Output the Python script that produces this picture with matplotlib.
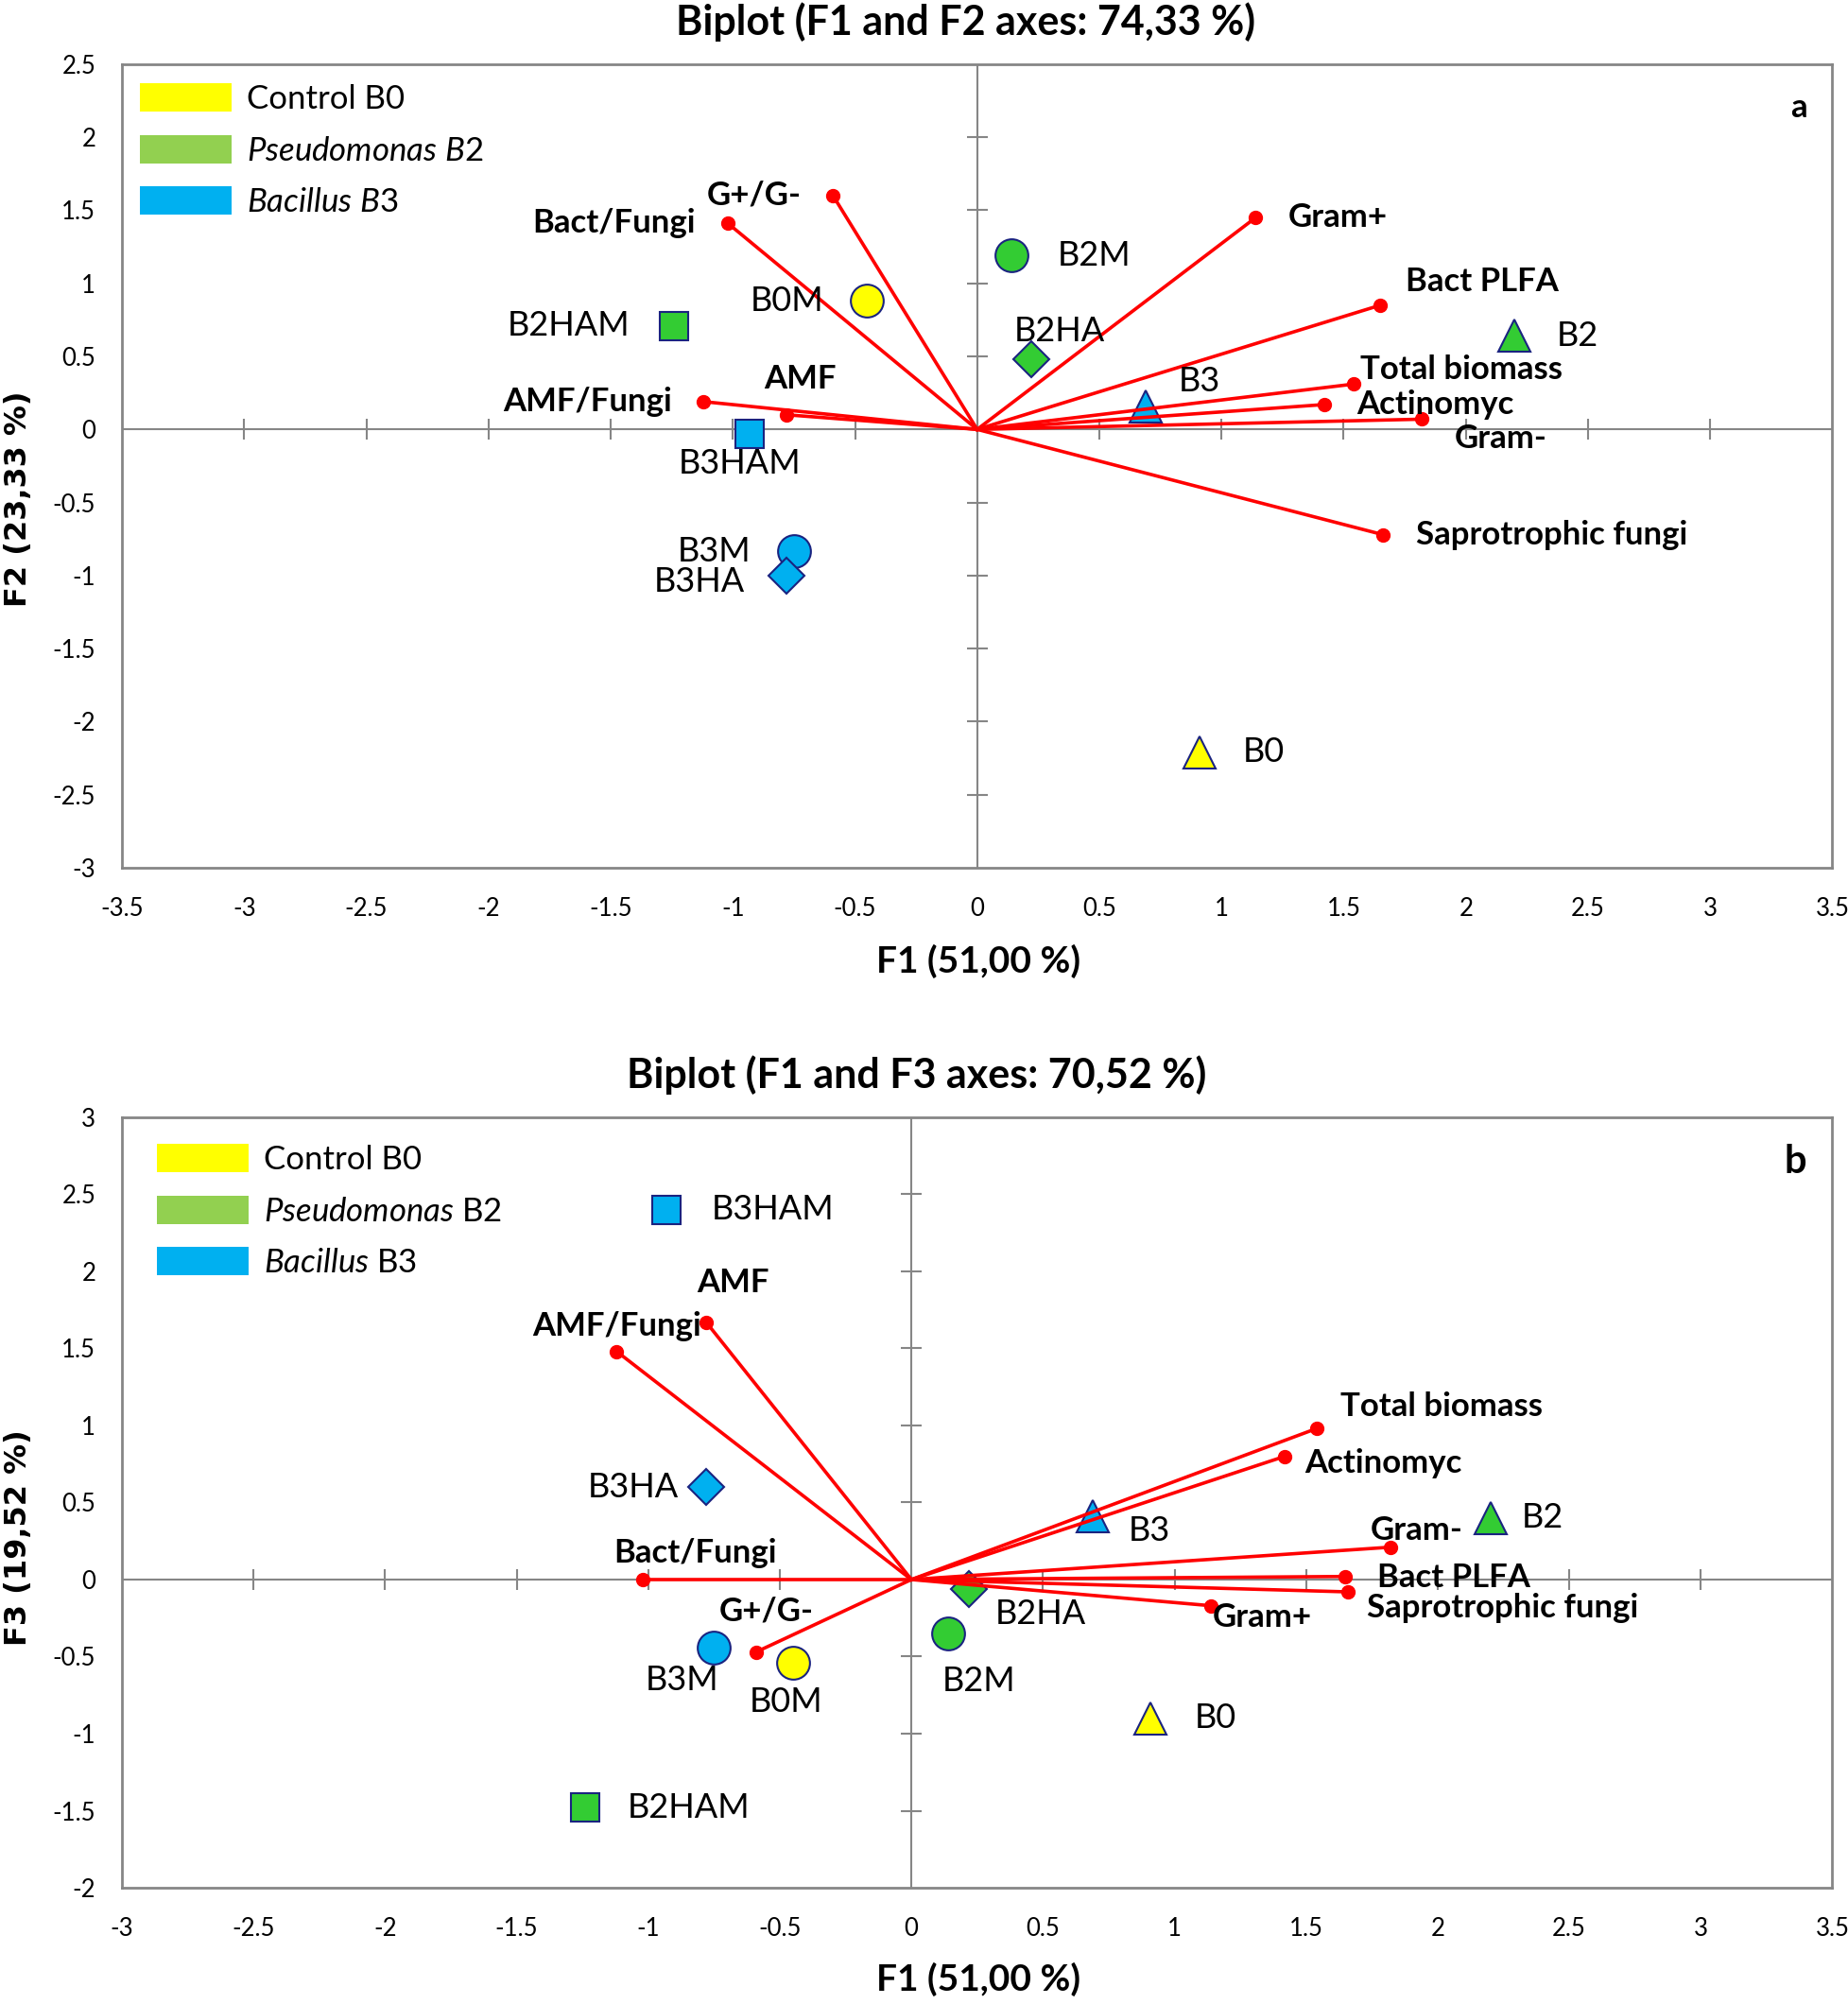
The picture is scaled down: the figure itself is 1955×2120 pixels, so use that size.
import matplotlib
matplotlib.use("Agg")
import matplotlib.pyplot as plt
from matplotlib.patches import Patch
from matplotlib.ticker import FuncFormatter, MultipleLocator
import numpy as np

plt.rcParams['font.family'] = ['Lato', 'DejaVu Sans']
plt.rcParams['axes.unicode_minus'] = False
plt.rcParams['mathtext.fontset'] = 'custom'
plt.rcParams['mathtext.rm'] = 'Lato'
plt.rcParams['mathtext.it'] = 'Lato:italic'

# sample scores
samples = ['B0', 'B0M', 'B2', 'B2M', 'B2HA', 'B2HAM', 'B3', 'B3M', 'B3HA', 'B3HAM']
s_f1 = [0.91, -0.45, 2.20, 0.14, 0.22, -1.24, 0.69, -0.75, -0.78, -0.93]
s_f2 = [-2.21, 0.88, 0.64, 1.19, 0.48, 0.71, 0.16, -0.83, -1.00, -0.03]
s_f3 = [-0.90, -0.54, 0.40, -0.35, -0.06, -1.48, 0.41, -0.44, 0.60, 2.40]

# variable loadings
variables = ['Total biomass', 'Bact PLFA', 'Gram+', 'Gram-', 'Actinomyc',
             'Saprotrophic fungi', 'AMF', 'Bact/Fungi', 'G+/G-', 'AMF/Fungi']
v_f1 = [1.54, 1.65, 1.14, 1.82, 1.42, 1.66, -0.78, -1.02, -0.59, -1.12]
v_f2 = [0.31, 0.85, 1.45, 0.07, 0.17, -0.72, 0.10, 1.41, 1.60, 0.19]
v_f3 = [0.98, 0.02, -0.17, 0.21, 0.80, -0.08, 1.67, 0.00, -0.47, 1.48]

group_colors = {'B0': '#FFFF00', 'B2': '#33CC33', 'B3': '#00B0F0'}
legend_colors = ['#FFFF00', '#92D050', '#00B0F0']
shape = {'': '^', 'M': 'o', 'HA': 'D', 'HAM': 's'}
msize = {'^': 25, 'o': 25, 'D': 19, 's': 22}
edge = '#1A2380'
grey = '#868686'

# label offsets in points (dx, dy, ha)
s_off_a = {'B0': (33, 0, 'left'), 'B0M': (-33, 0, 'right'), 'B2': (32, 0, 'left'),
           'B2M': (35, 0, 'left'), 'B2HA': (-13, 21, 'left'), 'B2HAM': (-34, 0, 'right'),
           'B3': (25, 19, 'left'), 'B3M': (-33, -1, 'right'), 'B3HA': (-32, -5, 'right'),
           'B3HAM': (-8, -23, 'center')}
v_off_a = {'Total biomass': (5, 11, 'left'), 'Bact PLFA': (19, 18, 'left'),
           'Gram+': (25, 0, 'left'), 'Gram-': (25, -15, 'left'), 'Actinomyc': (25, 0, 'left'),
           'Saprotrophic fungi': (25, 0, 'left'), 'AMF': (-17, 27, 'left'),
           'Bact/Fungi': (-25, 0, 'right'), 'G+/G-': (-24, 0, 'right'),
           'AMF/Fungi': (-24, 0, 'right')}
s_off_b = {'B0': (33, 0, 'left'), 'B0M': (-5, -30, 'center'), 'B2': (24, 0, 'left'),
           'B2M': (23, -36, 'center'), 'B2HA': (20, -19, 'left'), 'B2HAM': (32, 0, 'left'),
           'B3': (27, -11, 'left'), 'B3M': (-24, -25, 'center'), 'B3HA': (-21, 0, 'right'),
           'B3HAM': (34, 0, 'left')}
v_off_b = {'Total biomass': (18, 17, 'left'), 'Bact PLFA': (24, -1, 'left'),
           'Gram+': (1, -9, 'left'), 'Gram-': (-15, 13, 'left'), 'Actinomyc': (15, -5, 'left'),
           'Saprotrophic fungi': (14, -12, 'left'), 'AMF': (-7, 30, 'left'),
           'Bact/Fungi': (-22, 20, 'left'), 'G+/G-': (-28, 31, 'left'),
           'AMF/Fungi': (0, 19, 'center')}


def biplot(ax, sy, vy, xlim, ylim, s_off, v_off, legend_labels, legend_anchor, letter, letter_size):
    ax.set_xlim(*xlim)
    ax.set_ylim(*ylim)
    for sp in ax.spines.values():
        sp.set_color(grey)
        sp.set_linewidth(2)
    ax.xaxis.set_major_locator(MultipleLocator(0.5))
    ax.yaxis.set_major_locator(MultipleLocator(0.5))
    fmt = FuncFormatter(lambda v, p: '%g' % round(v, 2))
    ax.xaxis.set_major_formatter(fmt)
    ax.yaxis.set_major_formatter(fmt)
    ax.tick_params(axis='both', length=0, labelsize=18.5)
    ax.tick_params(axis='x', pad=22)
    ax.tick_params(axis='y', pad=20)

    # axes through origin with crossing tick marks
    ax.axhline(0, color=grey, lw=1.5, zorder=1)
    ax.axvline(0, color=grey, lw=1.5, zorder=1)
    xt = np.arange(xlim[0] + 0.5, xlim[1], 0.5)
    yt = np.arange(ylim[0] + 0.5, ylim[1], 0.5)
    ax.plot(xt, np.zeros_like(xt), ls='none', marker='|', ms=16, mew=1.5, color=grey, zorder=1)
    ax.plot(np.zeros_like(yt), yt, ls='none', marker='_', ms=16, mew=1.5, color=grey, zorder=1)

    # samples
    for name, x, y in zip(samples, s_f1, sy):
        grp = name[:2]
        m = shape[name[2:]]
        ax.plot(x, y, marker=m, ms=msize[m], mfc=group_colors[grp], mec=edge, mew=1.5,
                ls='none', zorder=3)
        dx, dy, ha = s_off[name]
        ax.annotate(name, (x, y), xytext=(dx, dy), textcoords='offset points',
                    ha=ha, va='center', fontsize=26, zorder=5)

    # variable vectors
    for name, x, y in zip(variables, v_f1, vy):
        ax.plot([0, x], [0, y], color='#FF0000', lw=2.6, zorder=4)
        ax.plot(x, y, marker='o', ms=10, color='#FF0000', zorder=4)
        dx, dy, ha = v_off[name]
        ax.annotate(name, (x, y), xytext=(dx, dy), textcoords='offset points',
                    ha=ha, va='center', fontsize=25, fontweight='bold', zorder=5)

    handles = [Patch(facecolor=c, edgecolor='none') for c in legend_colors]
    ax.legend(handles, legend_labels, loc='upper left', bbox_to_anchor=legend_anchor,
              frameon=False, fontsize=25, handlelength=2.8, handleheight=0.95,
              handletextpad=0.45, labelspacing=0.62, borderpad=0, borderaxespad=0)
    ax.text(0.985, 0.965, letter, transform=ax.transAxes, ha='right', va='top',
            fontsize=letter_size, fontweight='bold')


fig = plt.figure(figsize=(19.56, 21.2), dpi=100)
ax1 = fig.add_axes([0.066, 0.567, 0.925, 0.401])
ax2 = fig.add_axes([0.066, 0.058, 0.925, 0.3845])

biplot(ax1, s_f2, v_f2, (-3.5, 3.5), (-3, 2.5), s_off_a, v_off_a,
       ['Control B0', r'$\it{Pseudomonas\ B2}$', r'$\it{Bacillus\ B3}$'],
       (0.0105, 0.976), 'a', 25)
biplot(ax2, s_f3, v_f3, (-3, 3.5), (-2, 3), s_off_b, v_off_b,
       ['Control B0', r'$\it{Pseudomonas}$ B2', r'$\it{Bacillus}$ B3'],
       (0.0205, 0.965), 'b', 30)

fig.text(0.5225, 0.989, 'Biplot (F1 and F2 axes: 74,33 %)', ha='center', va='center',
         fontsize=31, fontweight='bold')
fig.text(0.496, 0.4635, 'Biplot (F1 and F3 axes: 70,52 %)', ha='center', va='center',
         fontsize=31, fontweight='bold')
fig.text(0.529, 0.5205, 'F1 (51,00 %)', ha='center', va='center', fontsize=28, fontweight='bold')
fig.text(0.529, 0.0125, 'F1 (51,00 %)', ha='center', va='center', fontsize=28, fontweight='bold')
fig.text(0.0102, 0.751, 'F2 (23,33 %)', ha='center', va='center', rotation=90,
         fontsize=23, fontweight='bold', family='DejaVu Sans')
fig.text(0.0102, 0.2325, 'F3 (19,52 %)', ha='center', va='center', rotation=90,
         fontsize=23, fontweight='bold', family='DejaVu Sans')

fig.savefig('out.png', dpi=100)
